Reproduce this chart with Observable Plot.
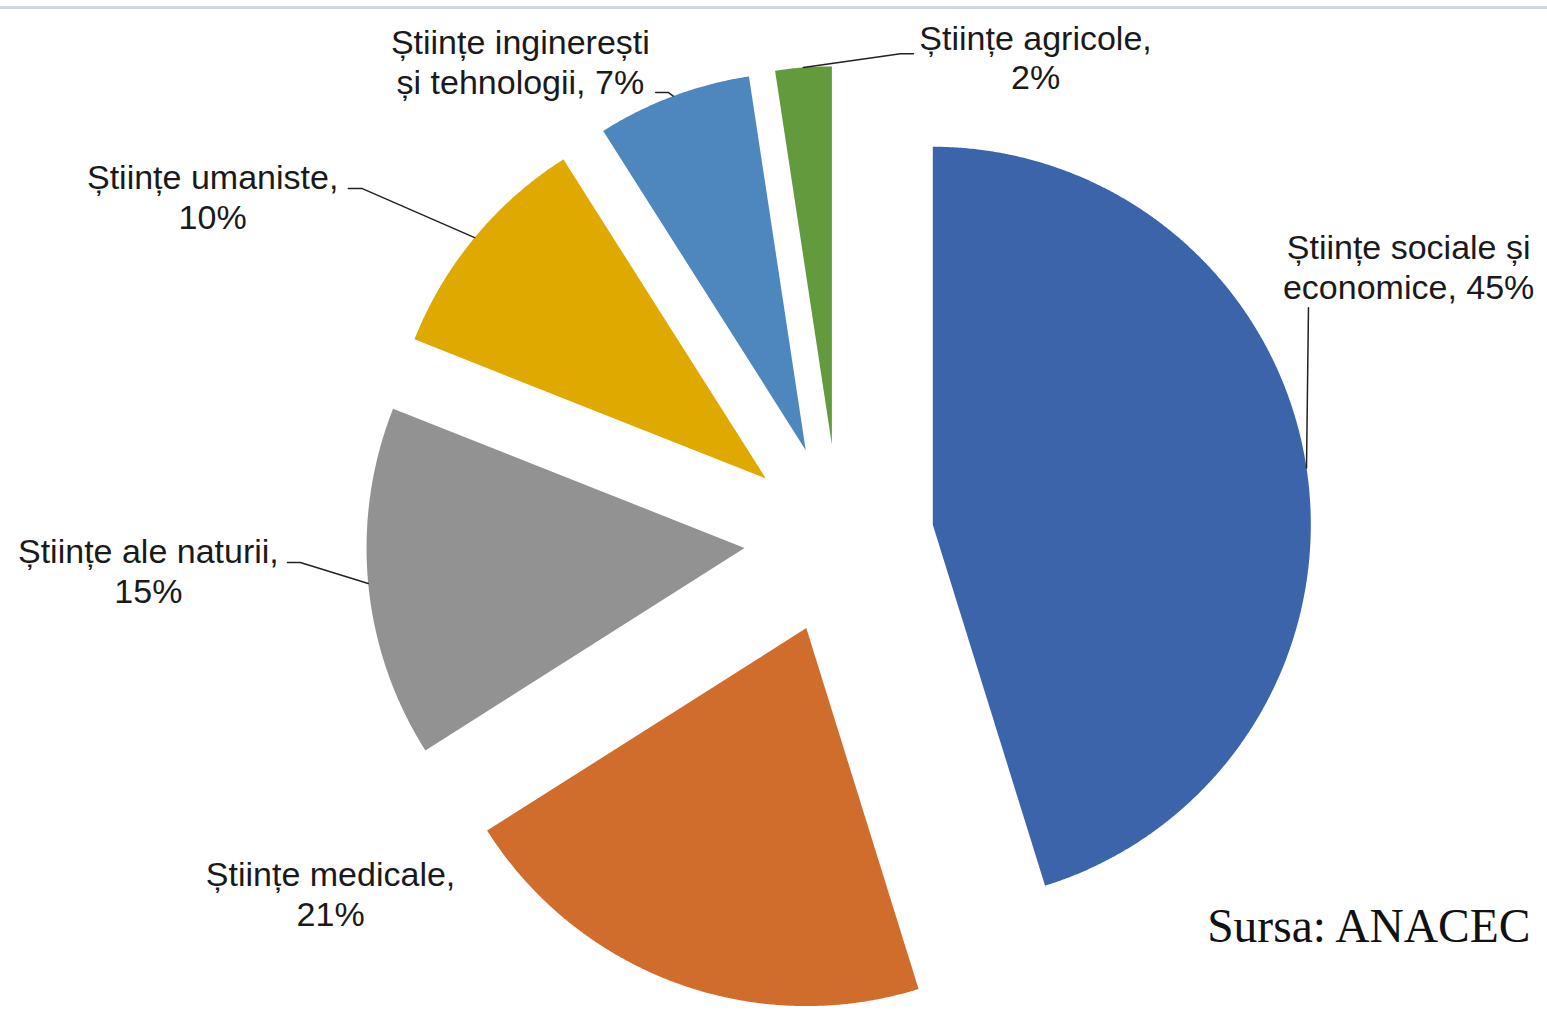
<!DOCTYPE html>
<html><head><meta charset="utf-8">
<script src="https://cdn.jsdelivr.net/npm/d3@7"></script>
<script src="https://cdn.jsdelivr.net/npm/@observablehq/plot@0.6"></script>
<style>
body{margin:0;background:#fff;}
#wrap{position:relative;width:1547px;height:1023px;overflow:hidden;background:#fff;}
#topline{position:absolute;left:0;top:6px;width:1547px;height:3px;background:#cfd6dc;}
</style></head><body>
<div id="wrap"><div id="chart"></div><div id="topline"></div></div>
<script>
// ---- data ----
const categories = ["Științe sociale și economice", "Științe medicale", "Științe ale naturii", "Științe umaniste", "Științe inginerești și tehnologii", "Științe agricole"];
const shares = [45.2, 20.8, 15.0, 10.0, 6.6, 2.4];
const labelLines = [["Științe sociale și", "economice, 45%"], ["Științe medicale,", "21%"], ["Științe ale naturii,", "15%"], ["Științe umaniste,", "10%"], ["Științe inginerești", "și tehnologii, 7%"], ["Științe agricole,", "2%"]];
const colors = ["#3c64ab", "#d06c2c", "#929292", "#e0a900", "#4e87bd", "#639a3d"];
const source = "Sursa: ANACEC";

// ---- layout (unit = pie radius, origin = pie centre) ----
const explode = 0.251;
const labelPos = [[1.507, 0.721], [-1.345, -0.938], [-1.827, -0.083], [-1.657, 0.906], [-0.843, 1.263], [0.520, 1.276]];
const leaderStart = [[[1.242, 0.612]], null, [[-1.459, -0.062], [-1.425, -0.062]], [[-1.298, 0.927], [-1.261, 0.927]], [[-0.485, 1.181], [-0.451, 1.181]], [[0.197, 1.284], [0.163, 1.284]]];

const arcs = d3.pie().sort(null).value(d => d)(shares);
const slicePts = [];
const leaderPts = [];
arcs.forEach((a, i) => {
  const m = (a.startAngle + a.endAngle) / 2;
  const ox = explode * Math.sin(m), oy = explode * Math.cos(m);
  const name = categories[i];
  slicePts.push({name, x: ox, y: oy});
  const n = Math.max(8, Math.ceil((a.endAngle - a.startAngle) / 0.005));
  for (let k = 0; k <= n; k++) {
    const t = a.startAngle + (a.endAngle - a.startAngle) * k / n;
    slicePts.push({name, x: ox + Math.sin(t), y: oy + Math.cos(t)});
  }
  if (leaderStart[i]) {
    leaderStart[i].forEach(p => leaderPts.push({name, x: p[0], y: p[1]}));
    leaderPts.push({name, x: ox + Math.sin(m), y: oy + Math.cos(m)});
  }
});
const labelData = categories.map((c, i) => ({name: c, x: labelPos[i][0], y: labelPos[i][1], text: labelLines[i].join("\n")}));

const R = 378, W = 1547, H = 1023, CX = 838.5, CY = 538.5;
const chart = Plot.plot({
  width: W, height: H, margin: 0,
  x: {domain: [-CX / R, (W - CX) / R], axis: null},
  y: {domain: [-(H - CY) / R, CY / R], axis: null},
  color: {domain: categories, range: colors},
  style: {background: "transparent"},
  marks: [
    Plot.line(slicePts, {x: "x", y: "y", z: "name", fill: "name", stroke: "none"}),
    Plot.line(leaderPts, {x: "x", y: "y", z: "name", stroke: "#222", strokeWidth: 1.5}),
    Plot.text(labelData, {x: "x", y: "y", text: "text", fontSize: 34, lineHeight: 1.17, fontFamily: "Liberation Sans, Arial, sans-serif", fill: "#1a1a1a", textAnchor: "middle"}),
    Plot.text([source], {text: d => d, frameAnchor: "bottom-right", textAnchor: "end", lineAnchor: "middle", dx: -17, dy: -97, fontSize: 47.5, fontFamily: "Liberation Serif, Times New Roman, serif", fill: "#111"})
  ]
});
document.getElementById("chart").appendChild(chart);
</script>
</body></html>
